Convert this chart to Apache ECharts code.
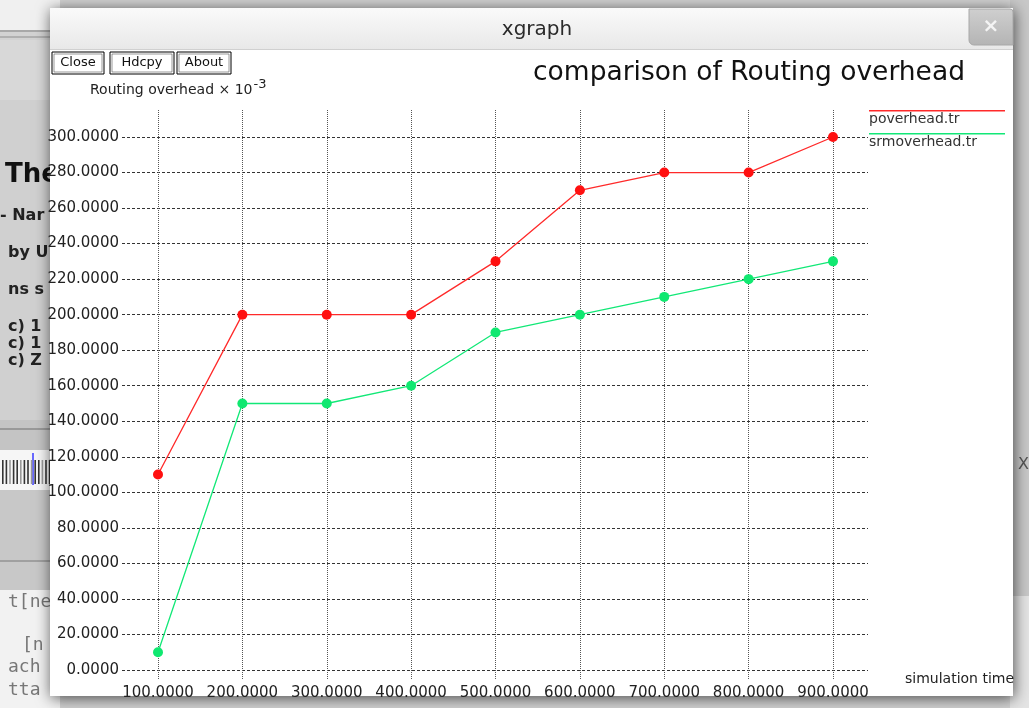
<!DOCTYPE html>
<html>
<head>
<meta charset="utf-8">
<script src="https://cdn.jsdelivr.net/npm/echarts@6/dist/echarts.min.js"></script>
<style>html,body{margin:0;padding:0;background:#d4d4d4;}#c{width:1029px;height:708px;}</style>
</head>
<body>
<div id="c"></div>
<script>
const xValues = [100, 200, 300, 400, 500, 600, 700, 800, 900];
const poverhead = [110, 200, 200, 200, 230, 270, 280, 280, 300];
const srmoverhead = [10, 150, 150, 160, 190, 200, 210, 220, 230];
const seriesNames = ['poverhead.tr', 'srmoverhead.tr'];
const seriesColors = ['#ff2a2a', '#12e877'];
const xTicks = [100, 200, 300, 400, 500, 600, 700, 800, 900];
const yTicks = [0, 20, 40, 60, 80, 100, 120, 140, 160, 180, 200, 220, 240, 260, 280, 300];
const chartTitle = 'comparison of Routing overhead';
const windowTitle = 'xgraph';
const yUnitText = 'Routing overhead × 10';
const yUnitSup = '-3';
const xUnitText = 'simulation time';
const buttons = ['Close', 'Hdcpy', 'About'];

const FONT = 'DejaVu Sans';
const xMin = xTicks[0], xMax = xTicks[xTicks.length - 1], xStep = xTicks[1] - xTicks[0];
const yMin = yTicks[0], yMax = yTicks[yTicks.length - 1], yStep = yTicks[1] - yTicks[0];

const chart = echarts.init(document.getElementById('c'), null, {renderer: 'canvas'});

const fmt = v => Number(v).toFixed(4);

// background desktop fragments (behind window)
const bg = [
  {type: 'rect', z: 0, shape: {x: 0, y: 0, width: 1029, height: 708}, style: {fill: '#d2d2d2'}},
  {type: 'rect', z: 0, shape: {x: 0, y: 0, width: 60, height: 30}, style: {fill: '#f0f0f0'}},
  {type: 'rect', z: 0, shape: {x: 0, y: 30, width: 60, height: 2}, style: {fill: '#a8a8a8'}},
  {type: 'rect', z: 0, shape: {x: 0, y: 36, width: 60, height: 2}, style: {fill: '#b0b0b0'}},
  {type: 'rect', z: 0, shape: {x: 0, y: 40, width: 60, height: 60}, style: {fill: '#d8d8d8'}},
  {type: 'rect', z: 0, shape: {x: 0, y: 100, width: 60, height: 320}, style: {fill: '#d0d0d0'}},
  {type: 'text', z: 1, style: {x: 5, y: 175, text: 'The', font: 'bold 26px "DejaVu Sans"', fill: '#111', verticalAlign: 'middle'}},
  {type: 'text', z: 1, style: {x: 0, y: 216, text: '- Nar', font: 'bold 16px "DejaVu Sans"', fill: '#222', verticalAlign: 'middle'}},
  {type: 'text', z: 1, style: {x: 8, y: 253, text: 'by U', font: 'bold 16px "DejaVu Sans"', fill: '#222', verticalAlign: 'middle'}},
  {type: 'text', z: 1, style: {x: 8, y: 290, text: 'ns s', font: 'bold 16px "DejaVu Sans"', fill: '#222', verticalAlign: 'middle'}},
  {type: 'text', z: 1, style: {x: 8, y: 327, text: 'c) 1', font: 'bold 16px "DejaVu Sans"', fill: '#222', verticalAlign: 'middle'}},
  {type: 'text', z: 1, style: {x: 8, y: 344, text: 'c) 1', font: 'bold 16px "DejaVu Sans"', fill: '#222', verticalAlign: 'middle'}},
  {type: 'text', z: 1, style: {x: 8, y: 361, text: 'c) Z', font: 'bold 16px "DejaVu Sans"', fill: '#222', verticalAlign: 'middle'}},
  {type: 'rect', z: 0, shape: {x: 0, y: 420, width: 60, height: 30}, style: {fill: '#c4c4c4'}},
  {type: 'rect', z: 0, shape: {x: 0, y: 428, width: 60, height: 2}, style: {fill: '#999'}},
  {type: 'rect', z: 0, shape: {x: 0, y: 450, width: 60, height: 40}, style: {fill: '#f6f6f6'}},
  {type: 'rect', z: 0, shape: {x: 32, y: 453, width: 2, height: 32}, style: {fill: '#6a6aff'}},
  {type: 'rect', z: 0, shape: {x: 0, y: 490, width: 60, height: 100}, style: {fill: '#c8c8c8'}},
  {type: 'rect', z: 0, shape: {x: 0, y: 560, width: 60, height: 2}, style: {fill: '#a0a0a0'}},
  {type: 'rect', z: 0, shape: {x: 0, y: 590, width: 60, height: 118}, style: {fill: '#f2f2f2'}},
  {type: 'text', z: 1, style: {x: 8, y: 602, text: 't[ne', font: '18px "DejaVu Sans Mono"', fill: '#777', verticalAlign: 'middle'}},
  {type: 'text', z: 1, style: {x: 22, y: 645, text: '[n', font: '18px "DejaVu Sans Mono"', fill: '#777', verticalAlign: 'middle'}},
  {type: 'text', z: 1, style: {x: 8, y: 667, text: 'ach', font: '18px "DejaVu Sans Mono"', fill: '#777', verticalAlign: 'middle'}},
  {type: 'text', z: 1, style: {x: 8, y: 690, text: 'tta', font: '18px "DejaVu Sans Mono"', fill: '#777', verticalAlign: 'middle'}},
  {type: 'rect', z: 0, shape: {x: 1010, y: 0, width: 19, height: 708}, style: {fill: '#c8c8c8'}},
  {type: 'rect', z: 0, shape: {x: 1010, y: 596, width: 19, height: 112}, style: {fill: '#e4e4e4'}},
  {type: 'text', z: 1, style: {x: 1018, y: 465, text: 'X', font: '16px "DejaVu Sans"', fill: '#555', verticalAlign: 'middle'}}
];
for (let i = 0; i < 14; i++) {
  bg.push({type: 'rect', z: 0, shape: {x: 2 + i * 3.6, y: 460, width: 1.6, height: 24}, style: {fill: i % 3 === 2 ? '#999' : '#333'}});
}

// window chrome
const win = [
  {type: 'rect', z: 2, shape: {x: 50, y: 8, width: 963, height: 688}, style: {fill: '#ffffff', shadowBlur: 14, shadowColor: 'rgba(0,0,0,0.65)', shadowOffsetX: 1, shadowOffsetY: 2}},
  {type: 'rect', z: 3, shape: {x: 50, y: 8, width: 963, height: 42}, style: {fill: new echarts.graphic.LinearGradient(0, 0, 0, 1, [{offset: 0, color: '#fafafa'}, {offset: 1, color: '#e8e8e8'}])}},
  {type: 'rect', z: 3, shape: {x: 50, y: 49, width: 963, height: 1}, style: {fill: '#d0d0d0'}},
  {type: 'rect', z: 4, shape: {x: 969, y: 9, width: 44, height: 36, r: [0, 3, 0, 5]}, style: {fill: new echarts.graphic.LinearGradient(0, 0, 0, 1, [{offset: 0, color: '#cfcfcf'}, {offset: 1, color: '#b4b4b4'}]), stroke: '#a8a8a8', lineWidth: 1}},
  {type: 'text', z: 5, style: {x: 991, y: 27, text: '×', font: 'bold 20px "DejaVu Sans"', fill: '#f4f4f4', align: 'center', verticalAlign: 'middle'}},
  {type: 'text', z: 5, style: {x: 537, y: 30, text: windowTitle, font: '20px "DejaVu Sans"', fill: '#2a2a2a', align: 'center', verticalAlign: 'middle'}}
];
const btnX = [52, 110, 177];
const btnW = [52, 64, 54];
buttons.forEach((b, i) => {
  win.push({type: 'rect', z: 5, shape: {x: btnX[i], y: 52, width: btnW[i], height: 22}, style: {fill: '#fff', stroke: '#000', lineWidth: 1}});
  win.push({type: 'rect', z: 5, shape: {x: btnX[i] + 2, y: 54, width: btnW[i] - 4, height: 18}, style: {fill: 'none', stroke: '#555', lineWidth: 0.6}});
  win.push({type: 'text', z: 6, style: {x: btnX[i] + btnW[i] / 2, y: 63, text: b, font: '13px "DejaVu Sans"', fill: '#111', align: 'center', verticalAlign: 'middle'}});
});

// texts
const texts = [
  {type: 'text', z: 6, style: {x: 749, y: 73, text: chartTitle, font: '26.5px "DejaVu Sans"', fill: '#111', align: 'center', verticalAlign: 'middle'}},
  {type: 'text', z: 6, style: {x: 90, y: 90, text: yUnitText + '{s|' + yUnitSup + '}', font: '14px "DejaVu Sans"', fill: '#222', verticalAlign: 'middle',
    rich: {s: {fontSize: 13, fontFamily: FONT, fill: '#222', padding: [0, 0, 10, 1]}}}},
  {type: 'text', z: 6, style: {x: 905, y: 679, text: xUnitText, font: '14px "DejaVu Sans"', fill: '#222', verticalAlign: 'middle'}}
];
// legend built from series names
seriesNames.forEach((n, i) => {
  texts.push({type: 'rect', z: 6, shape: {x: 869, y: 110 + i * 23, width: 136, height: 1.5}, style: {fill: seriesColors[i]}});
  texts.push({type: 'text', z: 6, style: {x: 869, y: 119 + i * 23, text: n, font: '14px "DejaVu Sans"', fill: '#333', verticalAlign: 'middle'}});
});

const AXZ = 50;
const option = {
  animation: false,
  backgroundColor: 'transparent',
  grid: [
    {left: 122, right: 161, top: 137, bottom: 38, z: AXZ},
    {left: 158, right: 196, top: 110, bottom: 29, z: AXZ},
    {left: 158, right: 196, top: 137, bottom: 38, z: AXZ}
  ],
  xAxis: [
    {gridIndex: 0, type: 'value', show: false, min: 0, max: 1, z: AXZ},
    {gridIndex: 1, type: 'value', min: xMin, max: xMax, interval: xStep, z: AXZ,
      axisLine: {show: false}, axisTick: {show: false},
      axisLabel: {formatter: fmt, margin: 7, fontFamily: FONT, fontSize: 15, color: '#222'},
      splitLine: {show: true, lineStyle: {color: '#555', width: 1, type: [1, 1]}}},
    {gridIndex: 2, type: 'value', show: false, min: xMin, max: xMax, z: AXZ}
  ],
  yAxis: [
    {gridIndex: 0, type: 'value', min: yMin, max: yMax, interval: yStep, z: AXZ,
      axisLine: {show: false}, axisTick: {show: false},
      axisLabel: {formatter: fmt, margin: 3, fontFamily: FONT, fontSize: 15, color: '#222'},
      splitLine: {show: true, lineStyle: {color: '#333', width: 1, type: [3, 2]}}},
    {gridIndex: 1, type: 'value', show: false, min: 0, max: 1, z: AXZ},
    {gridIndex: 2, type: 'value', show: false, min: yMin, max: yMax, z: AXZ}
  ],
  graphic: {elements: bg.concat(win, texts)},
  series: [
    {name: seriesNames[0], type: 'line', xAxisIndex: 2, yAxisIndex: 2, z: 60,
      data: xValues.map((x, i) => [x, poverhead[i]]),
      symbol: 'circle', symbolSize: 10, itemStyle: {color: '#ff1010'},
      lineStyle: {color: seriesColors[0], width: 1.3}},
    {name: seriesNames[1], type: 'line', xAxisIndex: 2, yAxisIndex: 2, z: 60,
      data: xValues.map((x, i) => [x, srmoverhead[i]]),
      symbol: 'circle', symbolSize: 10, itemStyle: {color: '#10e870'},
      lineStyle: {color: seriesColors[1], width: 1.3}}
  ]
};
chart.setOption(option);
</script>
</body>
</html>
